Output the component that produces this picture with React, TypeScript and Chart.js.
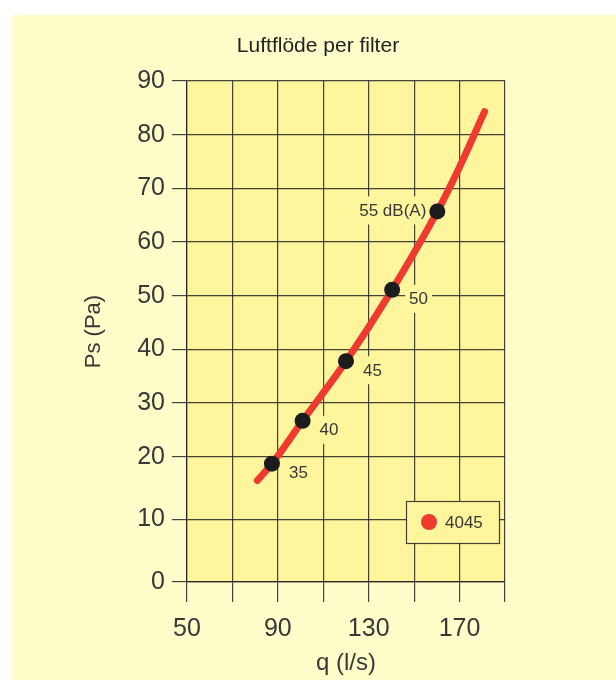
import React, { useEffect, useRef } from 'react';
import { Chart, registerables, LinearScale } from 'chart.js';

// ---- data ----
const chartTitle = 'Luftflöde per filter';
const xAxisTitle = 'q (l/s)';
const yAxisTitle = 'Ps (Pa)';
const seriesName = '4045';

const curveQ = [81, 87.4, 100.9, 120, 140.3, 160.2, 170, 181];
const curvePs = [16.2, 18.9, 26.7, 37.8, 51.1, 65.7, 74.0, 84.3];

const pointQ = [87.4, 100.9, 120, 140.3, 160.2];
const pointPs = [18.9, 26.7, 37.8, 51.1, 65.7];
const pointLabels = ['35', '40', '45', '50', '55 dB(A)'];

const xLabelValues = [50, 90, 130, 170];
const xMin = 50;
const xMax = 190;
const xStep = 20;
const yMin = 0;
const yMax = 90;
const yStep = 10;

// ---- styles ----
const FONT = '"Liberation Sans", Arial, Helvetica, sans-serif';
const PANEL_BG = '#FFFDCA';
const PLOT_BG = '#FFF59C';
const GRID = 'rgba(35,35,35,0.85)';
const TEXT = '#383838';
const RED = '#EE3A2F';
const DOT = '#1C1C1C';

// Y axis: the range below the break takes a larger share of the height
const Y_BREAK = 20;
const Y_BREAK_FRAC = 0.25;

class SplitLinearScale extends LinearScale {
  static id = 'splitLinear';
  warp(v: number) {
    const min = this.min, max = this.max, span = max - min;
    if (v <= Y_BREAK) return min + ((v - min) / (Y_BREAK - min)) * Y_BREAK_FRAC * span;
    return min + Y_BREAK_FRAC * span + ((v - Y_BREAK) / (max - Y_BREAK)) * (1 - Y_BREAK_FRAC) * span;
  }
  unwarp(u: number) {
    const min = this.min, max = this.max, span = max - min;
    const b = min + Y_BREAK_FRAC * span;
    if (u <= b) return min + ((u - min) / (Y_BREAK_FRAC * span)) * (Y_BREAK - min);
    return Y_BREAK + ((u - b) / ((1 - Y_BREAK_FRAC) * span)) * (max - Y_BREAK);
  }
  getPixelForValue(value: any, index?: number) {
    if (value === null || value === undefined || isNaN(value)) return NaN;
    return super.getPixelForValue(this.warp(value), index);
  }
  getValueForPixel(pixel: number) {
    return this.unwarp(super.getValueForPixel(pixel) as number);
  }
}

Chart.register(...registerables, SplitLinearScale as any);

const plotBgPlugin = {
  id: 'plotBg',
  beforeDraw(chart: any) {
    const { ctx, chartArea: a } = chart;
    ctx.save();
    ctx.fillStyle = PLOT_BG;
    ctx.fillRect(a.left, a.top, a.right - a.left, a.bottom - a.top);
    ctx.restore();
  },
};

const pointLabelPlugin = {
  id: 'pointLabels',
  beforeDatasetsDraw(chart: any) {
    const meta = chart.getDatasetMeta(1);
    const ctx = chart.ctx;
    ctx.save();
    ctx.font = `17px ${FONT}`;
    ctx.textBaseline = 'middle';
    ctx.textAlign = 'left';
    meta.data.forEach((el: any, i: number) => {
      const text = pointLabels[i];
      const last = i === pointLabels.length - 1;
      const w = ctx.measureText(text).width;
      const x = last ? el.x - 11 - w : el.x + 17;
      const y = last ? el.y - 1 : el.y + 9;
      ctx.fillStyle = PLOT_BG;
      ctx.fillRect(x - 4, y - 14, w + 8, 28);
      ctx.fillStyle = TEXT;
      ctx.fillText(text, x, y + 1);
    });
    ctx.restore();
  },
};

const legendPlugin = {
  id: 'boxLegend',
  afterDatasetsDraw(chart: any) {
    const { ctx, chartArea: a } = chart;
    const w = 93, h = 42;
    const right = a.right - 6;
    const bottom = a.bottom - 39;
    const left = right - w, top = bottom - h;
    ctx.save();
    ctx.fillStyle = PLOT_BG;
    ctx.fillRect(left, top, w, h);
    ctx.strokeStyle = GRID;
    ctx.lineWidth = 1.2;
    ctx.strokeRect(left + 0.5, top + 0.5, w, h);
    ctx.fillStyle = RED;
    ctx.beginPath();
    ctx.arc(left + 23, top + h / 2, 8, 0, Math.PI * 2);
    ctx.fill();
    ctx.fillStyle = TEXT;
    ctx.font = `17px ${FONT}`;
    ctx.textBaseline = 'middle';
    ctx.textAlign = 'left';
    ctx.fillText(seriesName, left + 39, top + h / 2 + 1);
    ctx.restore();
  },
};

const titlePlugin = {
  id: 'freeTitle',
  afterDraw(chart: any) {
    const ctx = chart.ctx;
    ctx.save();
    ctx.font = `21px ${FONT}`;
    ctx.fillStyle = '#222';
    ctx.textAlign = 'center';
    ctx.textBaseline = 'middle';
    ctx.fillText(chartTitle, 318, 46);
    ctx.restore();
  },
};

export default function App() {
  const canvasRef = useRef<HTMLCanvasElement | null>(null);

  useEffect(() => {
    document.body.style.margin = '0';
    const canvas = canvasRef.current;
    if (!canvas) return;
    const chart = new Chart(canvas, {
      type: 'line',
      data: {
        datasets: [
          {
            type: 'line',
            label: seriesName,
            order: 2,
            data: curveQ.map((q, i) => ({ x: q, y: curvePs[i] })),
            borderColor: RED,
            backgroundColor: RED,
            borderWidth: 7,
            borderCapStyle: 'round',
            borderJoinStyle: 'round',
            pointRadius: 0,
            tension: 0.4,
            cubicInterpolationMode: 'monotone',
            fill: false,
          },
          {
            type: 'scatter',
            label: 'dB(A)',
            order: 1,
            data: pointQ.map((q, i) => ({ x: q, y: pointPs[i] })),
            pointRadius: 8,
            pointBackgroundColor: DOT,
            pointBorderWidth: 0,
            borderColor: DOT,
            showLine: false,
          },
        ] as any,
      },
      options: {
        animation: false,
        responsive: true,
        maintainAspectRatio: false,
        layout: { padding: { top: 81, right: 111, left: 0, bottom: 0 } },
        plugins: {
          legend: { display: false },
          title: { display: false },
          tooltip: { enabled: false },
        },
        scales: {
          x: {
            type: 'linear',
            min: xMin,
            max: xMax,
            ticks: {
              stepSize: xStep,
              autoSkip: false,
              maxRotation: 0,
              padding: 12,
              color: TEXT,
              font: { family: FONT, size: 25 },
              callback: (v: any) => (xLabelValues.includes(Number(v)) ? String(v) : ''),
            },
            grid: { color: GRID, lineWidth: 1.2, tickLength: 20, tickColor: GRID, drawTicks: true },
            border: { display: true, color: GRID, width: 1.2 },
            title: {
              display: true,
              text: xAxisTitle,
              color: TEXT,
              font: { family: FONT, size: 24 },
              padding: { top: 0, bottom: 2 },
            },
            afterFit: (s: any) => {
              s.height = 98;
            },
          },
          y: {
            type: 'splitLinear' as any,
            min: yMin,
            max: yMax,
            ticks: {
              stepSize: yStep,
              padding: 7,
              color: TEXT,
              font: { family: FONT, size: 25 },
            },
            grid: { color: GRID, lineWidth: 1.2, tickLength: 15, tickColor: GRID, drawTicks: true },
            border: { display: true, color: GRID, width: 1.2 },
            title: {
              display: true,
              text: yAxisTitle,
              color: TEXT,
              font: { family: FONT, size: 22 },
              padding: { top: 81, bottom: 0 },
            },
            afterFit: (s: any) => {
              s.width = 187;
            },
          },
        } as any,
      },
      plugins: [plotBgPlugin, pointLabelPlugin, legendPlugin, titlePlugin],
    });
    return () => chart.destroy();
  }, []);

  return (
    <div style={{ position: 'relative', width: 616, height: 680, background: '#fff', overflow: 'hidden' }}>
      <div style={{ position: 'absolute', left: 12, top: 15, right: 0, bottom: 0, background: PANEL_BG }} />
      <div style={{ position: 'absolute', left: 0, top: 0, width: 616, height: 680 }}>
        <canvas ref={canvasRef} />
      </div>
    </div>
  );
}
